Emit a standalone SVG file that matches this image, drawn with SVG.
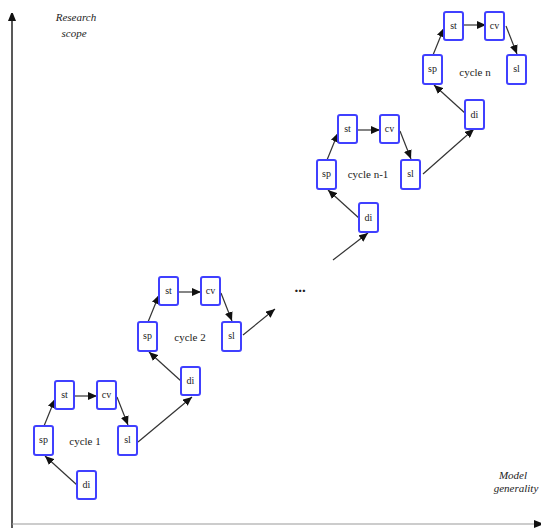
<svg xmlns="http://www.w3.org/2000/svg" width="541" height="528" viewBox="0 0 541 528">
<style>
.box{fill:#fff;stroke:#4040ff;stroke-width:2}
.lbl{font-family:"Liberation Serif","DejaVu Serif",serif;font-size:10px;fill:#222;text-anchor:middle}
.cyc{font-family:"Liberation Serif","DejaVu Serif",serif;font-size:11px;fill:#222;text-anchor:middle}
.dots{font-family:"Liberation Serif","DejaVu Serif",serif;font-size:15px;font-weight:bold;fill:#222;text-anchor:middle}
.ax{font-family:"Liberation Serif","DejaVu Serif",serif;font-size:11px;font-style:italic;fill:#222;text-anchor:middle}
.e{stroke:#333;stroke-width:1.2;fill:none;marker-end:url(#ah)}
</style>
<defs>
<marker id="ah" markerUnits="userSpaceOnUse" markerWidth="10" markerHeight="8" refX="9" refY="4" orient="auto">
<path d="M0,0 L9,4 L0,8 Z" fill="#111"/>
</marker>
<marker id="axh" markerUnits="userSpaceOnUse" markerWidth="8" markerHeight="12" refX="7" refY="4" orient="auto">
<path d="M0,0 L10,4 L0,8 Z" fill="#111"/>
</marker>
</defs>
<rect width="541" height="528" fill="#fff"/>
<g id="axes">
<line x1="12" y1="528" x2="12" y2="14" stroke="#222" stroke-width="1.5" marker-end="url(#axh)"/>
<line x1="12" y1="524" x2="541" y2="524" stroke="#999" stroke-width="1" marker-end="url(#axh)"/>
<text class="ax" x="76" y="21">Research</text>
<text class="ax" x="74" y="37">scope</text>
<text class="ax" x="513" y="479">Model</text>
<text class="ax" x="516" y="492">generality</text>
</g>
<g id="connectors">
<g transform="translate(34,426)">
<line class="e" x1="43" y1="59" x2="11" y2="30"/>
<line class="e" x1="10" y1="0" x2="21" y2="-27"/>
<line class="e" x1="40" y1="-30" x2="63" y2="-30"/>
<line class="e" x1="83" y1="-29" x2="94" y2="-1"/>
<line class="e" x1="104" y1="16" x2="158" y2="-29"/>
</g>
<g transform="translate(138,322)">
<line class="e" x1="43" y1="59" x2="11" y2="30"/>
<line class="e" x1="10" y1="0" x2="21" y2="-27"/>
<line class="e" x1="40" y1="-30" x2="63" y2="-30"/>
<line class="e" x1="83" y1="-29" x2="94" y2="-1"/>
<line class="e" x1="105" y1="13" x2="137" y2="-13"/>
</g>
<line class="e" x1="333" y1="260" x2="368" y2="233"/>
<g transform="translate(317,160)">
<line class="e" x1="43" y1="59" x2="11" y2="30"/>
<line class="e" x1="10" y1="0" x2="21" y2="-27"/>
<line class="e" x1="40" y1="-30" x2="63" y2="-30"/>
<line class="e" x1="83" y1="-29" x2="94" y2="-1"/>
<line class="e" x1="106" y1="14" x2="157" y2="-31"/>
</g>
<g transform="translate(423,55)">
<line class="e" x1="43" y1="59" x2="11" y2="30"/>
<line class="e" x1="10" y1="0" x2="21" y2="-27"/>
<line class="e" x1="40" y1="-30" x2="63" y2="-30"/>
<line class="e" x1="83" y1="-29" x2="94" y2="-1"/>
</g>
</g>
<g id="cycle1" transform="translate(34,426)">
<g id="c1-sp"><rect class="box" x="0" y="0" width="19" height="29" rx="2"/><text class="lbl" x="9.5" y="17">sp</text></g>
<g id="c1-st"><rect class="box" x="21" y="-45" width="19" height="28" rx="2"/><text class="lbl" x="30.5" y="-28">st</text></g>
<g id="c1-cv"><rect class="box" x="63" y="-45" width="19" height="28" rx="2"/><text class="lbl" x="72.5" y="-28">cv</text></g>
<g id="c1-sl"><rect class="box" x="84" y="0" width="19" height="29" rx="2"/><text class="lbl" x="93.5" y="17">sl</text></g>
<g id="c1-di"><rect class="box" x="43" y="45" width="19" height="28" rx="2"/><text class="lbl" x="52.5" y="62">di</text></g>
<text class="cyc" x="51" y="19">cycle 1</text>
</g>
<g id="cycle2" transform="translate(138,322)">
<g id="c2-sp"><rect class="box" x="0" y="0" width="19" height="29" rx="2"/><text class="lbl" x="9.5" y="17">sp</text></g>
<g id="c2-st"><rect class="box" x="21" y="-45" width="19" height="28" rx="2"/><text class="lbl" x="30.5" y="-28">st</text></g>
<g id="c2-cv"><rect class="box" x="63" y="-45" width="19" height="28" rx="2"/><text class="lbl" x="72.5" y="-28">cv</text></g>
<g id="c2-sl"><rect class="box" x="84" y="0" width="19" height="29" rx="2"/><text class="lbl" x="93.5" y="17">sl</text></g>
<g id="c2-di"><rect class="box" x="43" y="45" width="19" height="28" rx="2"/><text class="lbl" x="52.5" y="62">di</text></g>
<text class="cyc" x="52" y="19">cycle 2</text>
</g>
<text id="ellipsis" class="dots" x="300" y="292">...</text>
<g id="cycleN1" transform="translate(317,160)">
<g id="cn1-sp"><rect class="box" x="0" y="0" width="19" height="29" rx="2"/><text class="lbl" x="9.5" y="17">sp</text></g>
<g id="cn1-st"><rect class="box" x="21" y="-45" width="19" height="28" rx="2"/><text class="lbl" x="30.5" y="-28">st</text></g>
<g id="cn1-cv"><rect class="box" x="63" y="-45" width="19" height="28" rx="2"/><text class="lbl" x="72.5" y="-28">cv</text></g>
<g id="cn1-sl"><rect class="box" x="84" y="0" width="19" height="29" rx="2"/><text class="lbl" x="93.5" y="17">sl</text></g>
<g id="cn1-di"><rect class="box" x="42" y="43" width="19" height="29" rx="2"/><text class="lbl" x="51.5" y="61">di</text></g>
<text class="cyc" x="51" y="18">cycle n-1</text>
</g>
<g id="cycleN" transform="translate(423,55)">
<g id="cn-sp"><rect class="box" x="0" y="0" width="19" height="29" rx="2"/><text class="lbl" x="9.5" y="17">sp</text></g>
<g id="cn-st"><rect class="box" x="21" y="-43" width="19" height="28" rx="2"/><text class="lbl" x="30.5" y="-26">st</text></g>
<g id="cn-cv"><rect class="box" x="62" y="-43" width="19" height="28" rx="2"/><text class="lbl" x="71.5" y="-26">cv</text></g>
<g id="cn-sl"><rect class="box" x="84" y="0" width="19" height="29" rx="2"/><text class="lbl" x="93.5" y="17">sl</text></g>
<g id="cn-di"><rect class="box" x="42" y="45" width="19" height="29" rx="2"/><text class="lbl" x="51.5" y="63">di</text></g>
<text class="cyc" x="52" y="21">cycle n</text>
</g>
</svg>
